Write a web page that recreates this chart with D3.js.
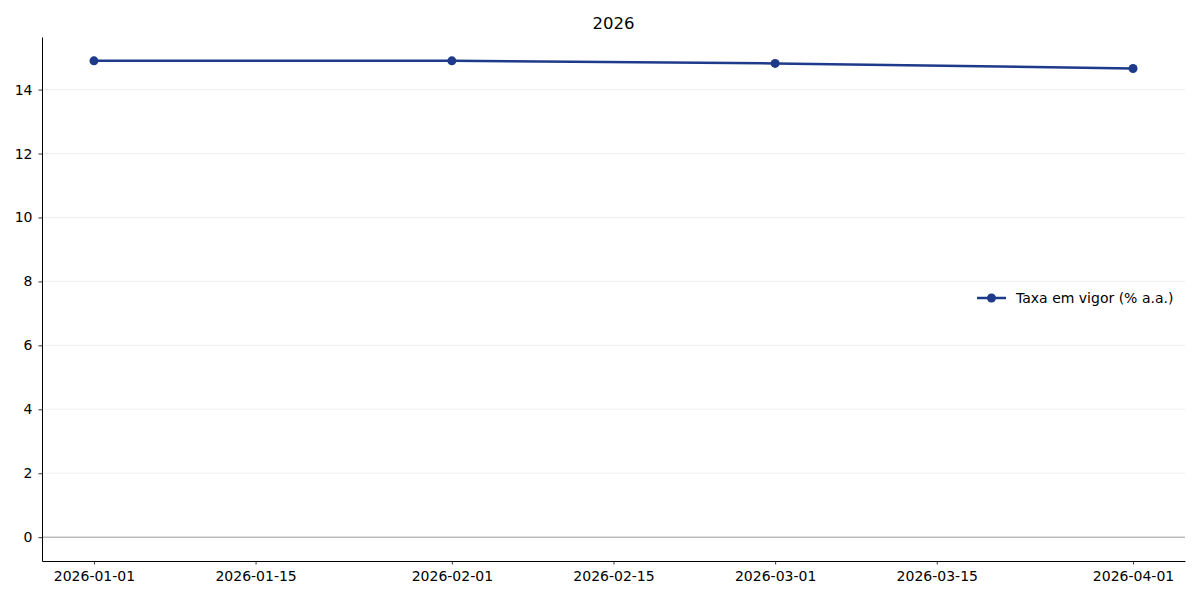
<!DOCTYPE html>
<html>
<head>
<meta charset="utf-8">
<script src="https://cdn.jsdelivr.net/npm/d3@7"></script>
<style>
  html, body { margin: 0; padding: 0; background: #fff; }
  svg { display: block; font-family: "DejaVu Sans", sans-serif; }
</style>
</head>
<body>
<svg id="chart" width="1200" height="600"></svg>
<script>
const dates = ["2026-01-01", "2026-02-01", "2026-03-01", "2026-04-01"];
const rates = [14.9, 14.9, 14.82, 14.66];
const xTicks = ["2026-01-01", "2026-01-15", "2026-02-01", "2026-02-15", "2026-03-01", "2026-03-15", "2026-04-01"];
const yTicks = [0, 2, 4, 6, 8, 10, 12, 14];
const title = "2026";
const seriesName = "Taxa em vigor (% a.a.)";

const parse = d3.utcParse("%Y-%m-%d");
const data = dates.map((d, i) => ({ date: parse(d), value: rates[i] }));

const svg = d3.select("#chart");
const margin = { top: 37, right: 15, bottom: 39, left: 42 };
const innerWidth = 1200 - margin.left - margin.right;
const innerHeight = 600 - margin.top - margin.bottom;
const chart = svg.append("g").attr("transform", `translate(${margin.left},${margin.top})`);

// matplotlib-style 5% margins
const [x0, x1] = d3.extent(data, (d) => d.date);
const xPad = (x1 - x0) * 0.05;
const x = d3.scaleUtc()
  .domain([new Date(+x0 - xPad), new Date(+x1 + xPad)])
  .range([0, innerWidth]);

const yMax = d3.max(rates);
const yPad = yMax * 0.05;
const y = d3.scaleLinear()
  .domain([-yPad, yMax + yPad])
  .range([innerHeight, 0]);

// grid
chart.append("g")
  .selectAll("line")
  .data(yTicks.filter((t) => t !== 0))
  .enter()
  .append("line")
  .attr("x1", 0)
  .attr("x2", innerWidth)
  .attr("y1", (d) => y(d))
  .attr("y2", (d) => y(d))
  .attr("stroke", "#ebebeb")
  .attr("stroke-width", 0.8);

// zero line
chart.append("line")
  .attr("x1", 0)
  .attr("x2", innerWidth)
  .attr("y1", y(0))
  .attr("y2", y(0))
  .attr("stroke", "#999")
  .attr("stroke-width", 1);

const xAxis = d3.axisBottom(x)
  .tickValues(xTicks.map(parse))
  .tickFormat(d3.utcFormat("%Y-%m-%d"))
  .tickSize(3.5)
  .tickSizeOuter(0)
  .tickPadding(7);

const yAxis = d3.axisLeft(y)
  .tickValues(yTicks)
  .tickFormat((d) => d)
  .tickSize(3.5)
  .tickSizeOuter(0)
  .tickPadding(6);

const gx = chart.append("g")
  .attr("class", "axis x-axis")
  .attr("transform", `translate(0,${innerHeight})`)
  .call(xAxis);

const gy = chart.append("g").attr("class", "axis y-axis").call(yAxis);

[gx, gy].forEach((g) => {
  g.attr("font-family", "DejaVu Sans").attr("font-size", 14);
  g.select(".domain").attr("stroke", "#000").attr("stroke-width", 1);
  g.selectAll(".tick line").attr("stroke", "#000").attr("stroke-width", 0.8);
  g.selectAll(".tick text").attr("fill", "#000");
});

// series
const color = "#1e3a8a";
chart.append("path")
  .datum(data)
  .attr("fill", "none")
  .attr("stroke", color)
  .attr("stroke-width", 2.5)
  .attr("stroke-linejoin", "round")
  .attr("d", d3.line().x((d) => x(d.date)).y((d) => y(d.value)));

chart.selectAll("circle.pt")
  .data(data)
  .enter()
  .append("circle")
  .attr("class", "pt")
  .attr("cx", (d) => x(d.date))
  .attr("cy", (d) => y(d.value))
  .attr("r", 4.5)
  .attr("fill", color);

// title
svg.append("text")
  .attr("x", margin.left + innerWidth / 2)
  .attr("y", 29)
  .attr("text-anchor", "middle")
  .attr("font-size", "16.5px")
  .attr("fill", "#000")
  .text(title);

// legend
const lg = svg.append("g").attr("transform", "translate(977,298)");
lg.append("line").attr("x1", 0).attr("x2", 29).attr("stroke", color).attr("stroke-width", 2.5);
lg.append("circle").attr("cx", 14.5).attr("r", 4.5).attr("fill", color);
lg.append("text")
  .attr("x", 39)
  .attr("dy", "0.35em")
  .attr("font-size", "14px")
  .attr("fill", "#000")
  .text(seriesName);
</script>
</body>
</html>
